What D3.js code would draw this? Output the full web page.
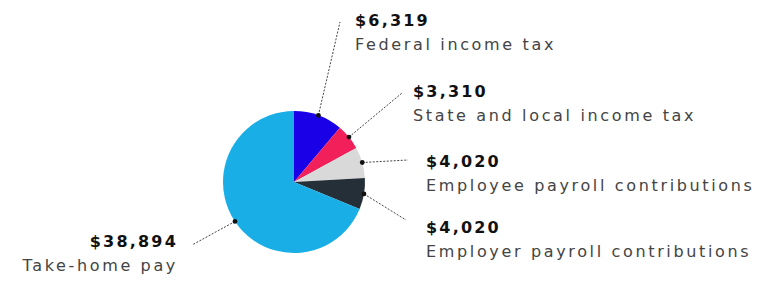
<!DOCTYPE html>
<html>
<head>
<meta charset="utf-8">
<script src="https://cdn.jsdelivr.net/npm/d3@7"></script>
<style>
  body { margin: 0; background: #fff; }
  svg { display: block; }
  .amount { font-family: "DejaVu Sans", sans-serif; font-weight: bold; font-size: 16px; fill: #111; letter-spacing: 2.2px; }
  .label { font-family: "DejaVu Sans", sans-serif; font-size: 16px; fill: #444; letter-spacing: 2.65px; }
</style>
</head>
<body>
<div id="chart"></div>
<script>
// slices, clockwise from 12 o'clock
const categories = ["Federal income tax", "State and local income tax", "Employee payroll contributions", "Employer payroll contributions", "Take-home pay"];
const amounts = [6319, 3310, 4020, 4020, 38894];
const colors = ["#1a00e6", "#f2205a", "#d9d9d9", "#252f37", "#19afe6"];

const width = 759, height = 283;
const cx = 294, cy = 182, radius = 71;

// where each label block sits: x, baseline of the amount, anchor, and leader end offset
const labelPos = [
  {x: 355, y: 26, anchor: "start", dx: -15, dy: -4},
  {x: 413, y: 97, anchor: "start", dx: -11, dy: -4},
  {x: 426, y: 167, anchor: "start", dx: -18, dy: -7},
  {x: 426, y: 233, anchor: "start", dx: -20, dy: -13},
  {x: 178, y: 247, anchor: "end", dx: 14, dy: -2}
];

const fmt = d3.format("$,");

let data = categories.map((c, i) => ({name: c, value: amounts[i], color: colors[i], pos: labelPos[i]}));

let svg = d3.select("#chart")
    .append("svg")
    .attr("width", width)
    .attr("height", height);

let pie = d3.pie()
    .sort(null)
    .value(d => d.value);

let arc = d3.arc()
    .innerRadius(0)
    .outerRadius(radius);

let arcs = pie(data);

let g = svg.append("g")
    .attr("transform", `translate(${cx}, ${cy})`);

g.selectAll("path")
    .data(arcs)
    .enter()
    .append("path")
    .attr("d", arc)
    .attr("fill", d => d.data.color);

// point on the rim at the middle of each slice
function rimPoint(d) {
  let a = (d.startAngle + d.endAngle) / 2;
  return [cx + radius * Math.sin(a), cy - radius * Math.cos(a)];
}

// leader lines
svg.selectAll("line.leader")
    .data(arcs)
    .enter()
    .append("line")
    .attr("class", "leader")
    .attr("x1", d => rimPoint(d)[0])
    .attr("y1", d => rimPoint(d)[1])
    .attr("x2", d => d.data.pos.x + d.data.pos.dx)
    .attr("y2", d => d.data.pos.y + d.data.pos.dy)
    .attr("stroke", "#444")
    .attr("stroke-width", 1)
    .attr("stroke-dasharray", "2,1.5");

svg.selectAll("circle.dot")
    .data(arcs)
    .enter()
    .append("circle")
    .attr("class", "dot")
    .attr("cx", d => rimPoint(d)[0])
    .attr("cy", d => rimPoint(d)[1])
    .attr("r", 2.4)
    .attr("fill", "#111");

// labels
let labels = svg.selectAll("g.lbl")
    .data(data)
    .enter()
    .append("g")
    .attr("class", "lbl");

labels.append("text")
    .attr("class", "amount")
    .attr("x", d => d.pos.x)
    .attr("y", d => d.pos.y)
    .attr("text-anchor", d => d.pos.anchor)
    .text(d => fmt(d.value));

labels.append("text")
    .attr("class", "label")
    .attr("x", d => d.pos.x)
    .attr("y", d => d.pos.y + 24)
    .attr("text-anchor", d => d.pos.anchor)
    .text(d => d.name);
</script>
</body>
</html>
